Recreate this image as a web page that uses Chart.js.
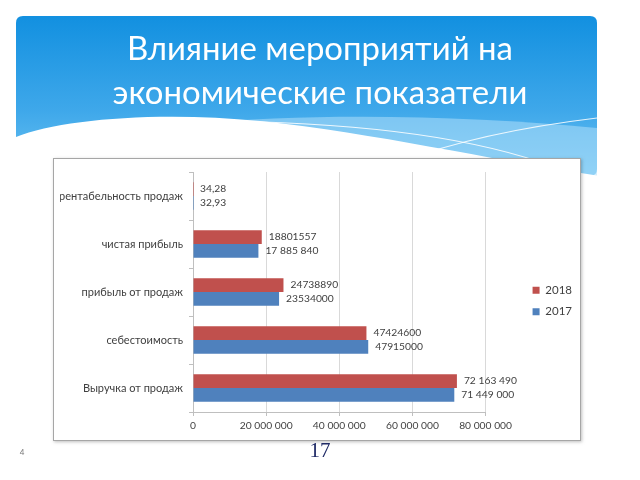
<!DOCTYPE html>
<html><head><meta charset="utf-8">
<script src="https://cdn.jsdelivr.net/npm/chart.js@4"></script>
<style>html,body{margin:0;padding:0;background:#fff;}#wrap{width:640px;height:480px;}</style>
</head><body><div id="wrap"><canvas id="c" width="640" height="480"></canvas></div>
<script>
const categories = ['рентабельность продаж','чистая прибыль','прибыль от продаж','себестоимость','Выручка от продаж'];
const seriesNames = ['2018','2017'];
const values2018 = [34.28, 18801557, 24738890, 47424600, 72163490];
const values2017 = [32.93, 17885840, 23534000, 47915000, 71449000];
const labels2018 = ['34,28','18801557','24738890','47424600','72 163 490'];
const labels2017 = ['32,93','17 885 840','23534000','47915000','71 449 000'];
const xTicks = ['0','20 000 000','40 000 000','60 000 000','80 000 000'];
const titleLines = ['Влияние мероприятий на','экономические показатели'];
const pageNumber = '17';
const slideNumber = '4';

const FAMILY = "Lato, 'Open Sans', sans-serif";
const mctx = document.createElement('canvas').getContext('2d');
function fitSize(text, target, family){
  mctx.font = '100px ' + family;
  return 100 * target / mctx.measureText(text).width;
}
const titleSize = fitSize(titleLines[0], 386, FAMILY);
const catSize = fitSize(categories[0], 124, FAMILY);
const tickSize = fitSize(xTicks[1], 53, FAMILY);

function roundRect(ctx,x,y,w,h,r){
  ctx.beginPath();
  ctx.moveTo(x+r,y); ctx.lineTo(x+w-r,y); ctx.quadraticCurveTo(x+w,y,x+w,y+r);
  ctx.lineTo(x+w,y+h-r); ctx.quadraticCurveTo(x+w,y+h,x+w-r,y+h);
  ctx.lineTo(x+r,y+h); ctx.quadraticCurveTo(x,y+h,x,y+h-r);
  ctx.lineTo(x,y+r); ctx.quadraticCurveTo(x,y,x+r,y); ctx.closePath();
}

const bgPlugin = {
  id:'bg',
  beforeDraw(chart){
    const ctx = chart.ctx;
    ctx.save();
    const g = ctx.createLinearGradient(0,16,0,175);
    g.addColorStop(0,'#1290e0'); g.addColorStop(0.6,'#3fa8ea'); g.addColorStop(1,'#6cc3f2');
    ctx.fillStyle = g;
    roundRect(ctx,16,16,581,160,7); ctx.fill();
    // light band
    ctx.fillStyle='rgba(175,222,250,0.55)';
    ctx.beginPath(); ctx.moveTo(190,124); ctx.bezierCurveTo(320,112,470,116,597,128);
    ctx.lineTo(597,176); ctx.lineTo(190,176); ctx.closePath(); ctx.fill();
    // white hill
    ctx.fillStyle='#fff';
    ctx.beginPath(); ctx.moveTo(16,137);
    ctx.bezierCurveTo(60,119,160,111,260,121);
    ctx.bezierCurveTo(380,134,480,158,600,176);
    ctx.lineTo(600,200); ctx.lineTo(10,200); ctx.closePath(); ctx.fill();
    // thin white lines
    ctx.strokeStyle='rgba(255,255,255,0.85)'; ctx.lineWidth=1.2;
    ctx.beginPath(); ctx.moveTo(205,121); ctx.quadraticCurveTo(420,122,540,162); ctx.stroke();
    ctx.beginPath(); ctx.moveTo(400,162); ctx.quadraticCurveTo(480,132,597,118); ctx.stroke();
    // title
    ctx.fillStyle='#fff'; ctx.textAlign='center'; ctx.textBaseline='middle';
    ctx.font = titleSize.toFixed(2)+'px '+FAMILY;
    ctx.fillText(titleLines[0],320,49);
    ctx.fillText(titleLines[1],320,93);
    // chart box
    ctx.shadowColor='rgba(0,0,0,0.25)'; ctx.shadowBlur=3; ctx.shadowOffsetX=1; ctx.shadowOffsetY=1;
    ctx.fillStyle='#fff'; ctx.fillRect(53,158,528,283);
    ctx.shadowColor='transparent';
    ctx.strokeStyle='#a6a6a6'; ctx.lineWidth=1; ctx.strokeRect(53.5,158.5,527,282);
    // footer
    ctx.fillStyle='#1f2a66'; ctx.font="21px 'Liberation Serif', serif";
    ctx.fillText(pageNumber,320,451);
    ctx.fillStyle='#777'; ctx.font="8px "+FAMILY; ctx.fillText(slideNumber,22,452);
    ctx.restore();
  }
};

const labelPlugin = {
  id:'vals',
  afterDatasetsDraw(chart){
    const ctx = chart.ctx;
    ctx.save();
    ctx.font = tickSize.toFixed(2)+'px '+FAMILY;
    ctx.fillStyle='#404040'; ctx.textBaseline='middle'; ctx.textAlign='left';
    chart.data.datasets.forEach((ds,di)=>{
      const meta = chart.getDatasetMeta(di);
      meta.data.forEach((bar,i)=>{ ctx.fillText(ds.valueLabels[i], bar.x+7, bar.y); });
    });
    ctx.restore();
  }
};

new Chart(document.getElementById('c'), {
  type:'bar',
  data:{labels:categories, datasets:[
    {label:seriesNames[0], data:values2018, backgroundColor:'#c0504d', valueLabels:labels2018},
    {label:seriesNames[1], data:values2017, backgroundColor:'#4f81bd', valueLabels:labels2017}
  ]},
  options:{
    indexAxis:'y', responsive:false, animation:false, devicePixelRatio:1,
    datasets:{bar:{categoryPercentage:0.57, barPercentage:1}},
    layout:{padding:{left:60, top:172, right:58, bottom:50}},
    plugins:{
      legend:{position:'right', labels:{boxWidth:7, boxHeight:7, padding:10, color:'#404040', font:{family:FAMILY, size:11.5}}},
      tooltip:{enabled:false}
    },
    scales:{
      x:{min:0, max:80000000,
        ticks:{stepSize:20000000, callback:(v,i)=>xTicks[i], color:'#404040', font:{family:FAMILY, size:tickSize}, padding:4, maxRotation:0, autoSkip:false},
        grid:{color:'#d9d9d9', tickLength:4, tickColor:'#bfbfbf'}, border:{color:'#bfbfbf'},
        afterFit(s){ s.height = 18; }},
      y:{ticks:{color:'#404040', font:{family:FAMILY, size:catSize}, padding:6},
        grid:{drawOnChartArea:false, tickLength:4, offset:true, color:'#bfbfbf'}, border:{color:'#bfbfbf'},
        afterFit(s){ s.width = 133; }},
      y2:{type:'category', position:'right', ticks:{display:false}, grid:{display:false}, border:{display:false},
        afterFit(s){ s.width = 37; }}
    }
  },
  plugins:[bgPlugin, labelPlugin]
});
</script></body></html>
